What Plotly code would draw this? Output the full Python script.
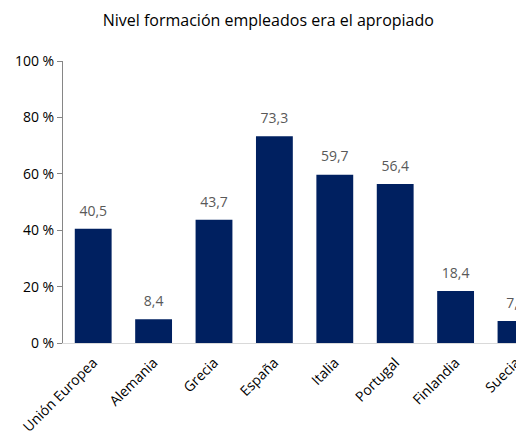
import plotly.graph_objects as go

categories = ["Unión Europea", "Alemania", "Grecia", "España", "Italia", "Portugal", "Finlandia", "Suecia"]
values = [40.5, 8.4, 43.7, 73.3, 59.7, 56.4, 18.4, 7.8]
y_ticks = [0, 20, 40, 60, 80, 100]
y_tick_labels = ["0 %", "20 %", "40 %", "60 %", "80 %", "100 %"]

labels = [f"{v:.1f}".replace(".", ",") for v in values]

fig = go.Figure()
fig.add_trace(go.Bar(
    x=categories, y=values,
    marker=dict(color="#002060", line=dict(width=0)),
    hoverinfo="skip",
))
fig.add_trace(go.Scatter(
    x=categories, y=values, mode="markers+text", text=labels,
    textposition="top center",
    marker=dict(size=14, opacity=0),
    textfont=dict(family="Open Sans", size=14, color="#595959"),
    cliponaxis=False, hoverinfo="skip",
))

fig.update_layout(
    width=516, height=434,
    margin=dict(l=63, r=0, t=61, b=91),
    paper_bgcolor="white", plot_bgcolor="white",
    bargap=0.39,
    showlegend=False,
    title=dict(text="Nivel formación empleados era el apropiado", x=0.52, xanchor="center",
               y=0.953, yanchor="middle",
               font=dict(family="Open Sans", size=16, color="#000000")),
    xaxis=dict(range=[-0.5, 7.0], showline=True, linecolor="#d9d9d9", linewidth=1,
               ticks="", tickangle=-45, automargin=False, ticklabelstandoff=5,
               tickfont=dict(family="Open Sans", size=14, color="#000000")),
    yaxis=dict(range=[0, 100], tickmode="array", tickvals=y_ticks, ticktext=y_tick_labels,
               showgrid=False, automargin=False,
               showline=True, linecolor="#868686", linewidth=1, ticks="outside",
               ticklen=5, tickcolor="#868686", zeroline=False,
               tickfont=dict(family="Open Sans", size=14, color="#000000")),
)

fig.write_html("out.html", config={"displayModeBar": False},
               post_script="document.body.style.margin='0';document.body.style.overflow='hidden';")
